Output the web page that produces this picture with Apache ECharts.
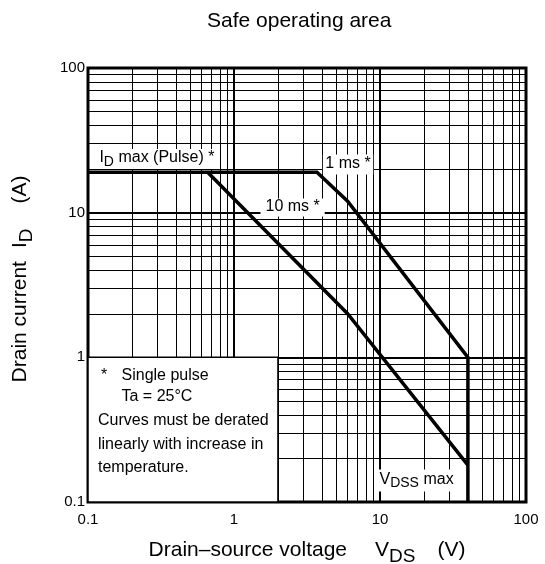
<!DOCTYPE html>
<html>
<head>
<meta charset="utf-8">
<script src="https://cdn.jsdelivr.net/npm/echarts@6/dist/echarts.min.js"></script>
<style>
  html, body { margin: 0; padding: 0; background: #fff; }
  #chart { width: 545px; height: 564px; }
</style>
</head>
<body>
<div id="chart"></div>
<script>
// Pulsed safe operating area limits: [VDS (V), ID (A)]
const limit1ms  = [[0.1, 19], [3.7, 19], [6, 12], [40, 1], [40, 0.1]];
const limit10ms = [[0.66, 19], [6, 2], [40, 0.18]];

// Axis decades and their labels
const xTicks = [0.1, 1, 10, 100];
const xTickLabels = ['0.1', '1', '10', '100'];
const yTicks = [0.1, 1, 10, 100];
const yTickLabels = ['0.1', '1', '10', '100'];

// Minor log-grid multipliers within a decade
const minorSteps = [2, 3, 4, 5, 6, 7, 8, 9];

// Note text shown in the lower-left box
const noteLines = ['Single pulse', 'Ta = 25°C', 'Curves must be derated', 'linearly with increase in', 'temperature.'];

const FONT = '"Liberation Sans", Arial, Helvetica, sans-serif';

function tickFormatter(ticks, labels) {
  return function (v) {
    for (let i = 0; i < ticks.length; i++) {
      if (Math.abs(Math.log10(v) - Math.log10(ticks[i])) < 1e-6) return labels[i];
    }
    return '';
  };
}

// Log grid lines drawn as mark lines on the axes' own scales
function gridLineData() {
  const out = [];
  const decX = xTicks.slice(0, -1);
  const decY = yTicks.slice(0, -1);
  decX.forEach(d => minorSteps.forEach(k => out.push({ xAxis: k * d })));
  decY.forEach(d => minorSteps.forEach(k => out.push({ yAxis: k * d })));
  xTicks.slice(1, -1).forEach(v => out.push({ xAxis: v, lineStyle: { width: 2 } }));
  yTicks.slice(1, -1).forEach(v => out.push({ yAxis: v, lineStyle: { width: 2 } }));
  return out;
}

const subRich = {
  n: { fontSize: 16, fontFamily: FONT, color: '#000', lineHeight: 18, verticalAlign: 'top' },
  s: { fontSize: 14, fontFamily: FONT, color: '#000', lineHeight: 16, padding: [5, 0, 0, 0], verticalAlign: 'top' }
};

function tag(value, text, padding) {
  return {
    value: value,
    label: {
      show: true,
      position: 'inside',
      formatter: text,
      color: '#000',
      opacity: 1,
      textBorderWidth: 0,
      backgroundColor: '#fff',
      padding: padding,
      rich: subRich
    }
  };
}

const chart = echarts.init(document.getElementById('chart'), null, { renderer: 'canvas' });

chart.setOption({
  animation: false,
  backgroundColor: '#fff',
  title: {
    text: 'Safe operating area',
    left: 207,
    top: 11,
    padding: 0,
    textStyle: { fontSize: 21, fontWeight: 'normal', color: '#000', fontFamily: FONT }
  },
  grid: {
    left: 88, right: 19, top: 68, bottom: 62,
    outerBoundsMode: 'none',
    containLabel: false,
    show: true, borderColor: '#000', borderWidth: 3, backgroundColor: '#fff'
  },
  xAxis: {
    type: 'log', logBase: 10, min: 0.1, max: 100,
    axisLine: { show: false }, axisTick: { show: false }, splitLine: { show: false },
    axisLabel: { fontSize: 15, color: '#000', fontFamily: FONT, margin: 10, formatter: tickFormatter(xTicks, xTickLabels) },
    name: '{n|Drain\u2013source voltage}{v|V}{s|DS}{p|(V)}',
    nameLocation: 'middle',
    nameGap: 38,
    nameTextStyle: {
      rich: {
        n: { fontSize: 21, fontFamily: FONT, color: '#000', lineHeight: 26, verticalAlign: 'top' },
        v: { fontSize: 21, fontFamily: FONT, color: '#000', lineHeight: 26, verticalAlign: 'top', padding: [0, 0, 0, 28] },
        s: { fontSize: 19, fontFamily: FONT, color: '#000', lineHeight: 22, verticalAlign: 'top', padding: [7, 0, 0, 0] },
        p: { fontSize: 21, fontFamily: FONT, color: '#000', lineHeight: 26, verticalAlign: 'top', padding: [0, 0, 0, 22] }
      }
    }
  },
  yAxis: {
    type: 'log', logBase: 10, min: 0.1, max: 100,
    axisLine: { show: false }, axisTick: { show: false }, splitLine: { show: false },
    axisLabel: { fontSize: 15, color: '#000', fontFamily: FONT, margin: 3, formatter: tickFormatter(yTicks, yTickLabels) },
    name: '{n|Drain current}{v|I}{s|D}{p|(A)}',
    nameLocation: 'middle',
    nameGap: 52,
    nameTextStyle: {
      padding: [0, 0, 0, 12],
      rich: {
        n: { fontSize: 21, fontFamily: FONT, color: '#000', lineHeight: 26, verticalAlign: 'top' },
        v: { fontSize: 21, fontFamily: FONT, color: '#000', lineHeight: 26, verticalAlign: 'top', padding: [0, 0, 0, 13] },
        s: { fontSize: 19, fontFamily: FONT, color: '#000', lineHeight: 22, verticalAlign: 'top', padding: [7, 0, 0, 0] },
        p: { fontSize: 21, fontFamily: FONT, color: '#000', lineHeight: 26, verticalAlign: 'top', padding: [0, 0, 0, 25] }
      }
    }
  },
  series: [
    {
      name: 'grid',
      type: 'line',
      data: [],
      silent: true,
      markLine: {
        silent: true, z: 1, animation: false,
        symbol: ['none', 'none'],
        label: { show: false },
        lineStyle: { color: '#000', width: 1, type: 'solid', opacity: 1 },
        emphasis: { disabled: true },
        data: gridLineData()
      }
    },
    {
      name: 'note',
      type: 'line',
      data: [],
      silent: true,
      markArea: {
        silent: true, z: 2, animation: false,
        itemStyle: { color: '#fff', borderColor: '#000', borderWidth: 1.5, opacity: 1 },
        label: { show: false },
        data: [[{ coord: [0.1, 0.1] }, { coord: [2, 1] }]]
      }
    },
    {
      name: '1 ms',
      type: 'line',
      z: 3,
      data: limit1ms,
      showSymbol: false,
      symbol: 'none',
      lineStyle: { color: '#000', width: 3.5, join: 'miter' }
    },
    {
      name: '10 ms',
      type: 'line',
      z: 3,
      data: limit10ms,
      showSymbol: false,
      symbol: 'none',
      lineStyle: { color: '#000', width: 3.5, join: 'miter' }
    },
    {
      name: 'labels',
      type: 'scatter',
      z: 4,
      symbolSize: 1,
      silent: true,
      itemStyle: { color: 'rgba(0,0,0,0)', opacity: 1 },
      data: [
        tag([0.2966, 23.5], '{n|I}{s|D}{n| max (Pulse) *}', [1, 5]),
        tag([6.04, 21.5], '{n|1 ms *}', [1, 2.5]),
        tag([2.52, 10.86], '{n|10 ms *}', [0, 5]),
        tag([17.8, 0.1408], '{n|V}{s|DSS}{n| max}', [2, 5])
      ]
    }
  ],
  graphic: [
    { type: 'text', x: 101, y: 376, z: 100, style: { text: '*', fontSize: 16, fontFamily: FONT, fill: '#000', verticalAlign: 'middle' } },
    { type: 'text', x: 121.5, y: 376, z: 100, style: { text: noteLines[0], fontSize: 16, fontFamily: FONT, fill: '#000', verticalAlign: 'middle' } },
    { type: 'text', x: 121.5, y: 396.5, z: 100, style: { text: noteLines[1], fontSize: 16, fontFamily: FONT, fill: '#000', verticalAlign: 'middle' } },
    { type: 'text', x: 98, y: 421, z: 100, style: { text: noteLines[2], fontSize: 16, fontFamily: FONT, fill: '#000', verticalAlign: 'middle' } },
    { type: 'text', x: 98, y: 445, z: 100, style: { text: noteLines[3], fontSize: 16, fontFamily: FONT, fill: '#000', verticalAlign: 'middle' } },
    { type: 'text', x: 98, y: 468, z: 100, style: { text: noteLines[4], fontSize: 16, fontFamily: FONT, fill: '#000', verticalAlign: 'middle' } }
  ]
});
</script>
</body>
</html>
